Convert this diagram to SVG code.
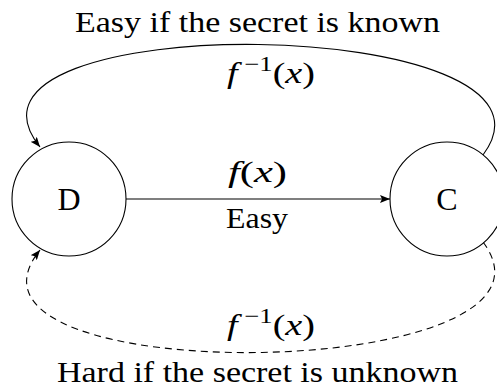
<svg xmlns="http://www.w3.org/2000/svg" width="497" height="389" viewBox="0 0 497 389">
<style>
  .node { fill: #ffffff; stroke: #000; stroke-width: 1.1; }
  .edge { fill: none; stroke: #000; stroke-width: 1.1; }
  .dash { stroke-dasharray: 7 5; }
  text { font-family: "Liberation Serif", "Times New Roman", serif; font-size: 30px; fill: #000; }
  .lbl { font-size: 32px; }
  .it { font-style: italic; }
  .sup { font-size: 21px; }
</style>
<defs>
  <marker id="arr" viewBox="0 0 10 8" refX="10" refY="4" markerWidth="10" markerHeight="8" markerUnits="userSpaceOnUse" orient="auto">
    <path d="M0,0 L10,4 L0,8 L2,4 Z" fill="#000"/>
  </marker>
</defs>
<g id="connectors">
  <line class="edge" x1="126" y1="199" x2="390" y2="199" marker-end="url(#arr)"/>
  <path class="edge" d="M483,155 C590,13 -75,5 40,147" marker-end="url(#arr)"/>
  <path class="edge dash" d="M483,242 C590,384 -75,392 40,250" marker-end="url(#arr)"/>
</g>
<g id="node-D">
  <circle class="node" cx="69" cy="199" r="57"/>
  <text class="lbl" x="69" y="210" text-anchor="middle">D</text>
</g>
<g id="node-C">
  <circle class="node" cx="447" cy="199" r="57"/>
  <text class="lbl" x="447" y="210" text-anchor="middle">C</text>
</g>
<g id="labels">
  <text x="75" y="32" textLength="365" lengthAdjust="spacingAndGlyphs">Easy if the secret is known</text>
  <text x="227" y="83" textLength="88" lengthAdjust="spacingAndGlyphs"><tspan class="it">f</tspan><tspan class="sup" dy="-12"> −1</tspan><tspan dy="12">(</tspan><tspan class="it">x</tspan>)</text>
  <text x="228" y="182" textLength="59" lengthAdjust="spacingAndGlyphs"><tspan class="it">f</tspan>(<tspan class="it">x</tspan>)</text>
  <text x="226" y="228" textLength="62" lengthAdjust="spacingAndGlyphs">Easy</text>
  <text x="227" y="335" textLength="88" lengthAdjust="spacingAndGlyphs"><tspan class="it">f</tspan><tspan class="sup" dy="-12"> −1</tspan><tspan dy="12">(</tspan><tspan class="it">x</tspan>)</text>
  <text x="57" y="382" textLength="401" lengthAdjust="spacingAndGlyphs">Hard if the secret is unknown</text>
</g>
</svg>
